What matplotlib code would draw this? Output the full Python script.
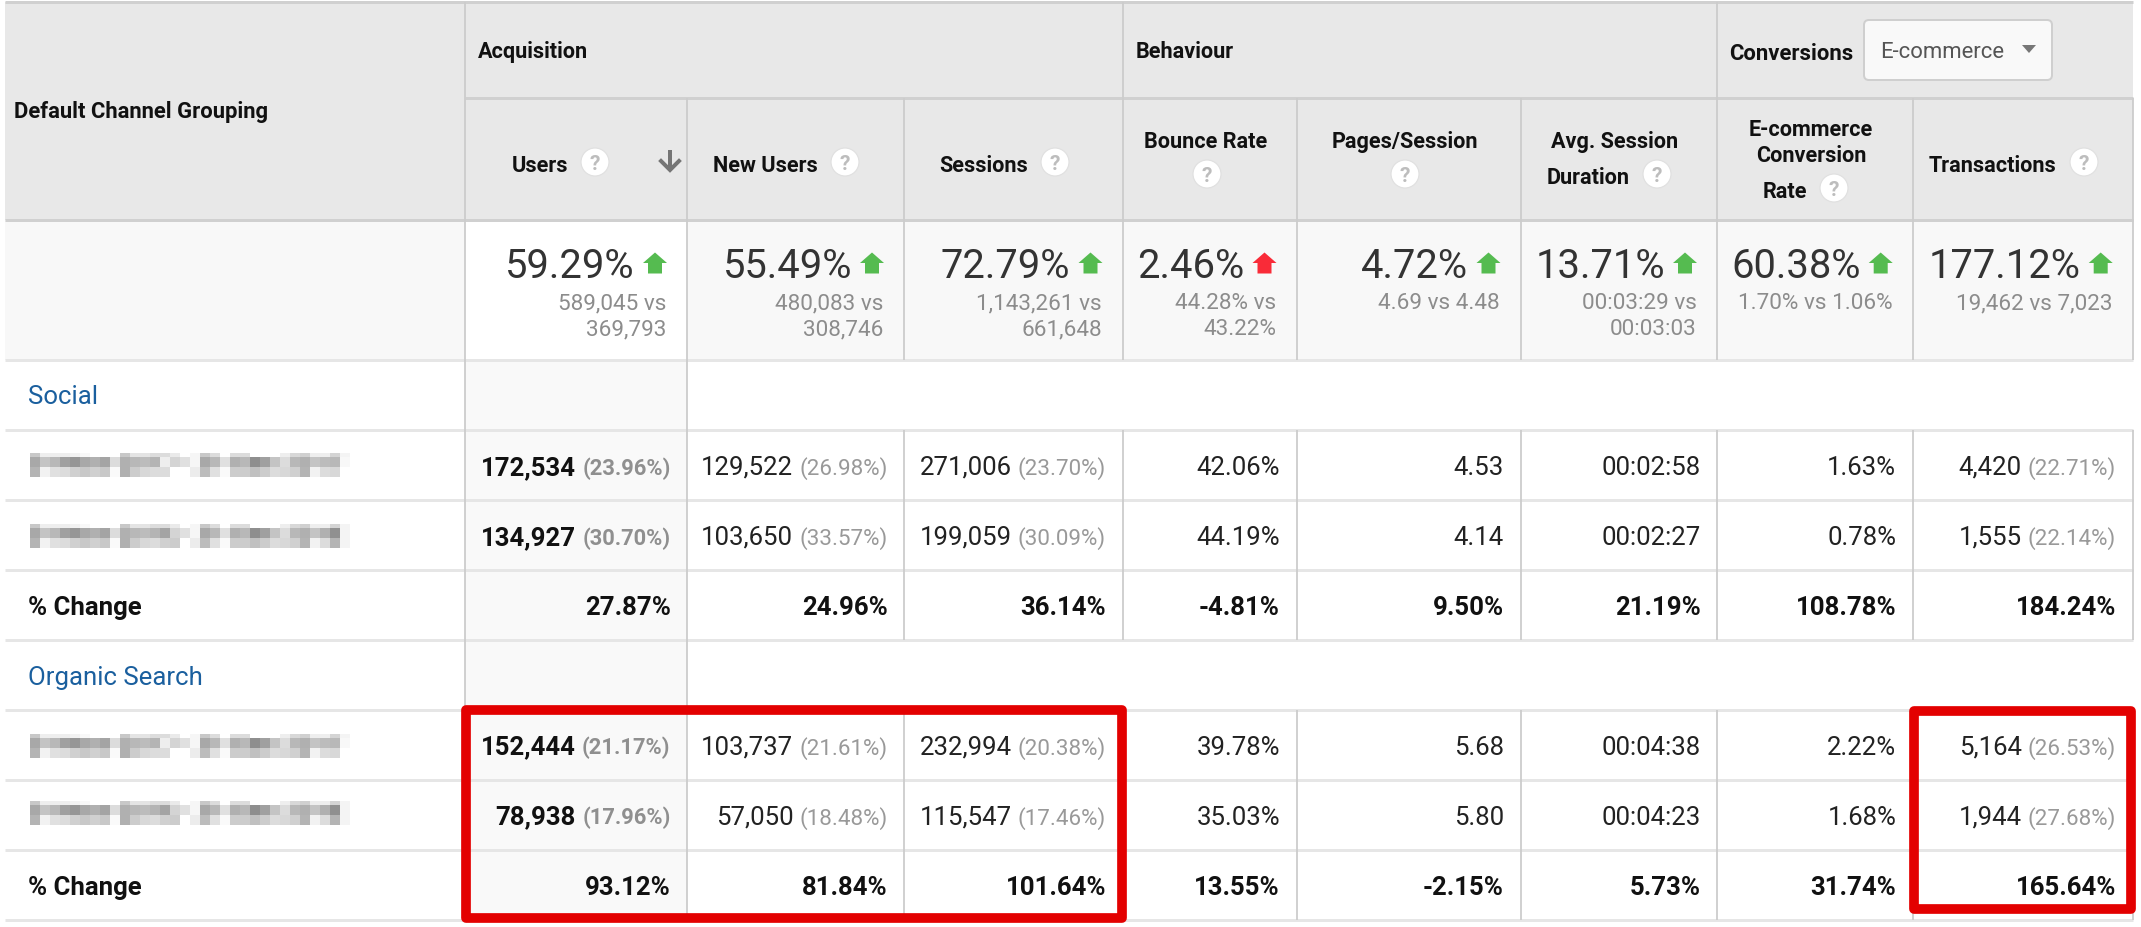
import numpy as np
import matplotlib
matplotlib.use("Agg")
import matplotlib.pyplot as plt
from matplotlib.patches import Rectangle, Polygon, FancyBboxPatch, Circle

plt.rcParams['font.family'] = ['Roboto', 'DejaVu Sans']

W, H = 2141, 928

# ---- data -------------------------------------------------------------
group_header = "Default Channel Grouping"
groups = ["Acquisition", "Behaviour", "Conversions"]
dropdown_label = "E-commerce"
segments = ["Social", "Organic Search"]
change_label = "% Change"

summary_pct = ["59.29%", "55.49%", "72.79%", "2.46%", "4.72%", "13.71%", "60.38%", "177.12%"]
summary_bad = [False, False, False, True, False, False, False, False]
summary_sub = [["589,045 vs", "369,793"], ["480,083 vs", "308,746"], ["1,143,261 vs", "661,648"],
               ["44.28% vs", "43.22%"], ["4.69 vs 4.48"], ["00:03:29 vs", "00:03:03"],
               ["1.70% vs 1.06%"], ["19,462 vs 7,023"]]

social_a = ["172,534", "129,522", "271,006", "42.06%", "4.53", "00:02:58", "1.63%", "4,420"]
social_a_share = ["(23.96%)", "(26.98%)", "(23.70%)", None, None, None, None, "(22.71%)"]
social_b = ["134,927", "103,650", "199,059", "44.19%", "4.14", "00:02:27", "0.78%", "1,555"]
social_b_share = ["(30.70%)", "(33.57%)", "(30.09%)", None, None, None, None, "(22.14%)"]
social_change = ["27.87%", "24.96%", "36.14%", "-4.81%", "9.50%", "21.19%", "108.78%", "184.24%"]

organic_a = ["152,444", "103,737", "232,994", "39.78%", "5.68", "00:04:38", "2.22%", "5,164"]
organic_a_share = ["(21.17%)", "(21.61%)", "(20.38%)", None, None, None, None, "(26.53%)"]
organic_b = ["78,938", "57,050", "115,547", "35.03%", "5.80", "00:04:23", "1.68%", "1,944"]
organic_b_share = ["(17.96%)", "(18.48%)", "(17.46%)", None, None, None, None, "(27.68%)"]
organic_change = ["93.12%", "81.84%", "101.64%", "13.55%", "-2.15%", "5.73%", "31.74%", "165.64%"]

# pixelated (redacted) row labels, grey levels
blur_top = [0xc8,0xee,0xee,0xee,0xf2,0xf8,0xff,0xff,0xff,0xc8,0xe4,0xe4,0xdc,0xdc,0xea,0xff,
            0xf6,0xc8,0xdc,0xff,0xdc,0xdc,0xff,0xff,0xff,0xee,0xd8,0xd0,0xee,0xee,0xd4,0xf4]
blur_mid_a = [0xa8,0xc4,0xb8,0xa0,0x96,0xa8,0xb0,0xa4,0xdc,0xb0,0xb8,0xbc,0xb4,0xee,0xd4,0xe0,
              0xf6,0xa8,0xb8,0xe0,0xb0,0xb8,0x8e,0xa0,0xc4,0xdc,0xb8,0xb0,0xc4,0xbc,0xb8,0xf8]
blur_mid_b = [0xa8,0xc4,0xb8,0xa0,0x96,0xa8,0xb0,0xa4,0xdc,0xb0,0xb8,0xbc,0xb4,0xa4,0xd4,0xe0,
              0xf6,0xa8,0xb8,0xe0,0xb0,0xb8,0x8e,0xa0,0xc4,0xdc,0xb8,0xb0,0xc4,0xb0,0x90,0xf4]
blur_bot_a = [0xb4,0xf2,0xe0,0xdc,0xd0,0xc8,0xd0,0xc8,0xfa,0xb0,0xcc,0xd8,0xdc,0xdc,0xff,0xff,
              0xec,0xbc,0xe0,0xfa,0xcc,0xcc,0xc0,0xcc,0xdc,0xd8,0xd0,0xb4,0xf2,0xdc,0xd8,0xff]
blur_bot_b = [0xb4,0xf2,0xe0,0xdc,0xd0,0xc8,0xd0,0xc8,0xfa,0xb0,0xcc,0xd8,0xdc,0xd0,0xcc,0xff,
              0xec,0xbc,0xe0,0xfa,0xcc,0xcc,0xc0,0xcc,0xdc,0xd8,0xd0,0xb4,0xf2,0xdc,0xb4,0xf4]

# ---- layout -----------------------------------------------------------
col_x = [465, 687, 904, 1122.5, 1296.5, 1520.5, 1717, 1912.7, 2132.7]
row_y = [360.7, 430.6, 500.6, 570.9, 640.8, 710.7, 780.6, 850.7, 920.5]
LEFT, TOP, HEAD1, HEAD2 = 5, 3, 99, 221

HDR_BG = "#e8e8e8"; SUM_BG = "#f8f8f8"; COL_BG = "#f9f9f9"
V_LINE = "#cccccc"; H_HEAD = "#d0d0d0"; H_ROW = "#e6e6e6"
RED = "#e30000"; GREEN = "#55bb50"; UP_RED = "#f92b38"; LINK = "#1a5f9e"
INK = "#111111"

FS_BODY = 18.5; FS_SHARE = 16.1; FS_SHARE_B = 15.8; FS_HEAD = 15.6; FS_BIG = 28.7; FS_SUB = 16.2

fig = plt.figure(figsize=(W / 100, H / 100), dpi=100)
ax = fig.add_axes([0, 0, 1, 1])
ax.set_xlim(0, W); ax.set_ylim(H, 0)
ax.axis("off")


def px(n):
    return n * 0.72


def rect(x0, y0, x1, y1, color, z=1):
    ax.add_patch(Rectangle((x0, y0), x1 - x0, y1 - y0, fc=color, ec="none", zorder=z))


def put(x, yc, s, size, color="#222222", ha="left", weight="normal"):
    """Text whose digit height is centred on yc (pixel coordinates)."""
    em = size / 0.72
    return ax.text(x, yc + 0.355 * em, s, fontsize=size, color=color, ha=ha, va="baseline",
                   fontweight=weight, zorder=5)


def help_icon(x, y):
    ax.add_patch(Circle((x, y), 14, fc="white", ec="#e0e0e0", lw=px(1.2), zorder=4))
    put(x, y, "?", 15, "#bdbdbd", "center", "bold")


def arrow(xc, yc, color):
    w, h, sw, hh = 12, 10.5, 7, 10.5
    pts = [(xc, yc - h), (xc + w, yc - h + hh), (xc + sw, yc - h + hh), (xc + sw, yc + h),
           (xc - sw, yc + h), (xc - sw, yc - h + hh), (xc - w, yc - h + hh)]
    ax.add_patch(Polygon(pts, closed=True, fc=color, ec="none", zorder=5))


def rule(xs, ys, color, width):
    ax.plot(xs, ys, color=color, lw=px(width), zorder=3, solid_capstyle="butt")


# backgrounds
rect(LEFT, TOP, col_x[-1], HEAD2, HDR_BG)
rect(LEFT, HEAD2, col_x[-1], row_y[0], SUM_BG)
rect(col_x[0], HEAD2, col_x[1], row_y[0], "white", 2)
rect(col_x[0], row_y[0], col_x[1], row_y[-1], COL_BG, 2)

# horizontal rules
rule([LEFT, col_x[-1]], [TOP, TOP], H_HEAD, 3)
rule([col_x[0], col_x[-1]], [HEAD1, HEAD1], H_HEAD, 3)
rule([LEFT, col_x[-1]], [HEAD2, HEAD2], H_HEAD, 3)
for y in row_y:
    rule([LEFT, col_x[-1]], [y, y], H_ROW, 3)

# vertical rules
for x in (col_x[0], col_x[3], col_x[6]):
    rule([x, x], [TOP, HEAD1], V_LINE, 1.8)
for x in col_x:
    rule([x, x], [HEAD1, row_y[0]], V_LINE, 1.8)
for x in col_x[:2]:
    rule([x, x], [row_y[0], row_y[-1]], V_LINE, 1.8)
for x in col_x[2:]:
    for r0, r1 in ((1, 4), (5, 8)):
        rule([x, x], [row_y[r0], row_y[r1]], V_LINE, 1.8)

# header text
B = "bold"
put(14, 110, group_header, 15.8, INK, "left", B)
put(478, 50.5, groups[0], FS_HEAD, INK, "left", B)
put(1136, 50.5, groups[1], FS_HEAD, INK, "left", B)
put(1729.5, 52.5, groups[2], 15.9, INK, "left", B)
ax.add_patch(FancyBboxPatch((1867, 24), 182, 54, boxstyle="round,pad=3,rounding_size=5",
                            fc="#f9f9f9", ec="#cfcfcf", lw=px(2), zorder=4))
put(1880, 50.5, dropdown_label, 15.9, "#555555")
ax.add_patch(Polygon([(2022, 46), (2036, 46), (2029, 54)], closed=True, fc="#777777", ec="none", zorder=5))

put(512, 164.5, "Users", FS_HEAD, INK, "left", B); help_icon(595, 163)
ax.plot([670, 670], [151, 172], color="#757575", lw=px(4), zorder=5, solid_capstyle="butt")
ax.plot([661, 670, 679], [162, 171, 162], color="#757575", lw=px(4), zorder=5, solid_joinstyle="miter")
put(713, 164.5, "New Users", FS_HEAD, INK, "left", B); help_icon(845, 163)
put(939, 164.5, "Sessions", FS_HEAD, INK, "left", B); help_icon(1055, 163)
put(1206, 140.5, "Bounce Rate", FS_HEAD, INK, "center", B); help_icon(1207, 175)
put(1405, 140.5, "Pages/Session", FS_HEAD, INK, "center", B); help_icon(1405, 175)
put(1615, 140.5, "Avg. Session", FS_HEAD, INK, "center", B)
put(1547, 176.5, "Duration", FS_HEAD, INK, "left", B); help_icon(1657, 175)
put(1811, 128.5, "E-commerce", FS_HEAD, INK, "center", B)
put(1811, 154.5, "Conversion", FS_HEAD, INK, "center", B)
put(1785, 190.5, "Rate", FS_HEAD, INK, "center", B); help_icon(1834, 189)
put(1929, 164.5, "Transactions", FS_HEAD, INK, "left", B); help_icon(2084, 163)

# summary row
for right, pct, bad, sub in zip(col_x[1:], summary_pct, summary_bad, summary_sub):
    put(right - 52, 264, pct, FS_BIG, "#333333", "right")
    arrow(right - 32, 264, UP_RED if bad else GREEN)
    for k, line in enumerate(sub):
        put(right - 20.5, 301 + 26 * k, line, FS_SUB, "#8c8c8c", "right")

# segment titles and change labels
put(28, 395, segments[0], FS_BODY, LINK)
put(28, 676, segments[1], FS_BODY, LINK)
put(28, 605.5, change_label, FS_BODY, INK, "left", B)
put(28, 885.5, change_label, FS_BODY, INK, "left", B)

fig.canvas.draw()
renderer = fig.canvas.get_renderer()


def data_row(yc, vals, shares):
    for i, (right, v, s) in enumerate(zip(col_x[1:], vals, shares)):
        edge = right - 16.5
        first = i == 0
        weight = B if first else "normal"
        color = INK if first else "#222222"
        if s is not None:
            t = put(edge, yc + 1, s, FS_SHARE_B if first else FS_SHARE,
                    "#8f8f8f" if first else "#999999", "right", B if first else "normal")
            left = ax.transData.inverted().transform(t.get_window_extent(renderer))[0][0]
            put(left - 6, yc, v, FS_BODY, color, "right", weight)
        else:
            put(edge, yc, v, FS_BODY, color, "right", weight)


def change_row(yc, vals):
    for right, v in zip(col_x[1:], vals):
        put(right - 16.5, yc, v, FS_BODY, INK, "right", B)


data_row(465.8, social_a, social_a_share)
data_row(535.8, social_b, social_b_share)
change_row(605.5, social_change)
data_row(745.5, organic_a, organic_a_share)
data_row(815.5, organic_b, organic_b_share)
change_row(885.5, organic_change)


# redacted labels
def blur(y0, mid, bot):
    cells = np.array([blur_top, mid, bot], dtype=float)
    heights = [4, 10, 10]
    edges = np.concatenate([[y0], y0 + np.cumsum(heights)])
    xs = 30 + 10 * np.arange(cells.shape[1] + 1)
    ax.pcolormesh(xs, edges, cells, cmap="gray", vmin=0, vmax=255, zorder=4, shading="flat",
                  linewidth=0, rasterized=True)


blur(454, blur_mid_a, blur_bot_a)
blur(525, blur_mid_b, blur_bot_b)
blur(735, blur_mid_a, blur_bot_a)
blur(802, blur_mid_b, blur_bot_b)

# red highlight boxes
for x0, y0, x1, y1 in ((465.5, 710.5, 1121.5, 918.5), (1913.5, 711.5, 2130.5, 910)):
    ax.add_patch(Rectangle((x0, y0), x1 - x0, y1 - y0, fc="none", ec=RED, lw=px(9.7),
                           joinstyle="round", zorder=6))

ax.set_xlim(0, W); ax.set_ylim(H, 0)
fig.savefig("out.png", dpi=100, facecolor="white")
